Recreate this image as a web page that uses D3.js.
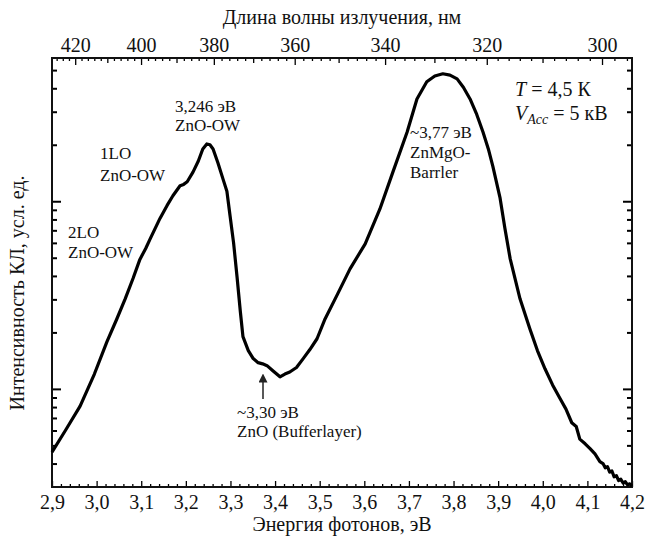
<!DOCTYPE html>
<html>
<head>
<meta charset="utf-8">
<script src="https://cdn.jsdelivr.net/npm/d3@7/dist/d3.min.js"></script>
<style>
  body { margin: 0; background: #fff; }
</style>
</head>
<body>
<svg id="chart"></svg>
<script>
// Spectrum: photon energy (eV) and intensity (arb. units, log)
const energy = [2.9, 2.93, 2.963, 2.995, 3.023, 3.045, 3.064, 3.082, 3.097, 3.11, 3.12, 3.142, 3.158,
  3.171, 3.187, 3.195, 3.203, 3.216, 3.228, 3.238, 3.247, 3.254, 3.261, 3.272, 3.283, 3.292, 3.299,
  3.307, 3.315, 3.322, 3.328, 3.34, 3.351, 3.362, 3.372, 3.382, 3.395, 3.411, 3.422, 3.433, 3.448,
  3.463, 3.478, 3.494, 3.512, 3.54, 3.568, 3.602, 3.635, 3.664, 3.696, 3.718, 3.74, 3.758, 3.776,
  3.792, 3.808, 3.822, 3.837, 3.852, 3.866, 3.878, 3.888, 3.904, 3.915, 3.927, 3.949, 3.971, 3.988,
  4.005, 4.022, 4.039, 4.052, 4.065, 4.075, 4.083, 4.095, 4.106, 4.117, 4.128, 4.135, 4.14, 4.145,
  4.15, 4.155, 4.16, 4.165, 4.17, 4.175, 4.18, 4.185, 4.19, 4.195, 4.2];
const intensity = [0.46, 0.6, 0.81, 1.2, 1.78, 2.35, 3.02, 3.9, 4.9, 5.6, 6.3, 8.1, 9.5,
  10.7, 12.1, 12.3, 12.7, 14.3, 16.4, 19.0, 20.2, 20.0, 19.0, 16.0, 13.2, 11.3, 8.4,
  6.0, 3.9, 2.6, 1.9, 1.6, 1.45, 1.38, 1.36, 1.33, 1.25, 1.16, 1.2, 1.23, 1.3,
  1.45, 1.62, 1.85, 2.36, 3.2, 4.36, 5.93, 9.1, 14.3, 23.4, 35.1, 43.3, 46.5, 47.8,
  47.0, 44.9, 40.5, 35.1, 29.0, 23.4, 19.0, 15.4, 10.5, 7.2, 4.93, 3.02, 2.09, 1.6,
  1.28, 1.05, 0.885, 0.78, 0.66, 0.63, 0.54, 0.51, 0.48, 0.45, 0.41, 0.40, 0.38, 0.385,
  0.36, 0.365, 0.34, 0.345, 0.325, 0.33, 0.315, 0.32, 0.308, 0.312, 0.303];

const energyTicks = [2.9, 3.0, 3.1, 3.2, 3.3, 3.4, 3.5, 3.6, 3.7, 3.8, 3.9, 4.0, 4.1, 4.2];
const wavelengthTicks = [420, 400, 380, 360, 340, 320, 300];

const width = 654;
const height = 539;
const hc = 1239.84; // eV*nm
const serif = "'Liberation Serif'";

const svg = d3.select("#chart").attr("width", width).attr("height", height);

const x = d3.scaleLinear().domain([2.9, 4.2]).range([52, 632]);
const y = d3.scaleLog().domain([0.3, 58]).range([487, 58]);

const fmt = (d) => d3.format(".1f")(d).replace(".", ",");

// bottom axis: minor ticks every 0.02, major every 0.1
const minorE = d3.range(2.9, 4.2001, 0.02).filter((e) => !energyTicks.some((t) => Math.abs(t - e) < 1e-6));
svg.append("g")
  .attr("transform", `translate(0,487)`)
  .call(d3.axisBottom(x).tickValues(minorE).tickSize(-3).tickFormat(""))
  .call((g) => g.select(".domain").remove())
  .call((g) => g.selectAll("line").attr("stroke-width", 1.3));
svg.append("g")
  .attr("transform", `translate(0,487)`)
  .call(d3.axisBottom(x).tickValues(energyTicks).tickSize(-6).tickPadding(8).tickFormat(fmt))
  .call((g) => g.select(".domain").remove())
  .call((g) => g.selectAll("line").attr("stroke-width", 1.3))
  .call((g) => g.selectAll("text").attr("font-size", 20).attr("fill", "#111").style("font-family", serif));

// top axis: wavelength, ticks placed at E = hc / lambda
const toE = (l) => hc / l;
const minorL = d3.range(296, 427, 2).filter((l) => l % 10 !== 0);
const midL = d3.range(300, 421, 10).filter((l) => l % 20 !== 0);
svg.append("g")
  .attr("transform", `translate(0,58)`)
  .call(d3.axisTop(x).tickValues(minorL.map(toE)).tickSize(-3).tickFormat(""))
  .call((g) => g.select(".domain").remove())
  .call((g) => g.selectAll("line").attr("stroke-width", 1.3));
svg.append("g")
  .attr("transform", `translate(0,58)`)
  .call(d3.axisTop(x).tickValues(midL.map(toE)).tickSize(-5).tickFormat(""))
  .call((g) => g.select(".domain").remove())
  .call((g) => g.selectAll("line").attr("stroke-width", 1.3));
svg.append("g")
  .attr("transform", `translate(0,58)`)
  .call(d3.axisTop(x).tickValues(wavelengthTicks.map(toE)).tickSize(-7).tickPadding(6)
    .tickFormat((e) => Math.round(hc / e)))
  .call((g) => g.select(".domain").remove())
  .call((g) => g.selectAll("line").attr("stroke-width", 1.3))
  .call((g) => g.selectAll("text").attr("font-size", 20).attr("fill", "#111").style("font-family", serif));

// left / right log axes, no labels
const yMinor = [0.4, 0.5, 0.6, 0.7, 0.8, 0.9, 2, 3, 4, 5, 6, 7, 8, 9, 20, 30, 40, 50];
const yMajor = [1, 10];
[["left", 52], ["right", 632]].forEach(([side, px]) => {
  const ax = side === "left" ? d3.axisLeft : d3.axisRight;
  svg.append("g")
    .attr("transform", `translate(${px},0)`)
    .call(ax(y).tickValues(yMinor).tickSize(-5).tickFormat(""))
    .call((g) => g.select(".domain").remove())
    .call((g) => g.selectAll("line").attr("stroke-width", 2));
  svg.append("g")
    .attr("transform", `translate(${px},0)`)
    .call(ax(y).tickValues(yMajor).tickSize(-9).tickFormat(""))
    .call((g) => g.select(".domain").remove())
    .call((g) => g.selectAll("line").attr("stroke-width", 2));
});

// frame
svg.append("rect")
  .attr("x", 52).attr("y", 58).attr("width", 580).attr("height", 429)
  .attr("fill", "none").attr("stroke", "#111").attr("stroke-width", 2);

// curve
const line = d3.line().x((d, i) => x(energy[i])).y((d) => y(d));
svg.append("path")
  .datum(intensity)
  .attr("d", line)
  .attr("fill", "none")
  .attr("stroke", "#000")
  .attr("stroke-width", 3.2)
  .attr("stroke-linejoin", "round");

// text helper
const txt = (tx, ty, s, size) =>
  svg.append("text").attr("x", tx).attr("y", ty).style("font-family", serif)
    .attr("font-size", size).attr("fill", "#111").text(s);

// axis titles
txt(342, 24, "Длина волны излучения, нм", 20).attr("text-anchor", "middle");
txt(342, 531, "Энергия фотонов, эВ", 20).attr("text-anchor", "middle");
txt(0, 0, "Интенсивность КЛ, усл. ед.", 20)
  .attr("transform", "translate(24,293) rotate(-90)")
  .attr("text-anchor", "middle");

// annotations
const notes = [
  [175, 112, "3,246 эВ"], [175, 131, "ZnO-OW"],
  [100, 159, "1LO"], [100, 181, "ZnO-OW"],
  [68, 238, "2LO"], [68, 258, "ZnO-OW"],
  [410, 138, "~3,77 эВ"], [410, 158, "ZnMgO-"], [410, 178, "Barrler"],
  [237, 418, "~3,30 эВ"], [237, 437, "ZnO (Bufferlayer)"],
];
notes.forEach(([nx, ny, t]) => txt(nx, ny, t, 17));

// arrow to buffer layer
svg.append("defs").append("marker")
  .attr("id", "ah").attr("viewBox", "0 0 10 10").attr("refX", 5).attr("refY", 5)
  .attr("markerWidth", 6).attr("markerHeight", 6).attr("orient", "auto")
  .append("path").attr("d", "M0,0 L10,5 L0,10 z").attr("fill", "#222");
svg.append("line")
  .attr("x1", 263).attr("y1", 399).attr("x2", 263).attr("y2", 378)
  .attr("stroke", "#222").attr("stroke-width", 1.5).attr("marker-end", "url(#ah)");

// conditions
const t1 = txt(515, 96, "", 20);
t1.append("tspan").attr("font-style", "italic").text("T");
t1.append("tspan").text(" = 4,5 К");
const t2 = txt(515, 120, "", 20);
t2.append("tspan").attr("font-style", "italic").text("V");
t2.append("tspan").attr("font-style", "italic").attr("font-size", 14).attr("dy", 4).text("Acc");
t2.append("tspan").attr("dy", -4).text(" = 5 кВ");
</script>
</body>
</html>
